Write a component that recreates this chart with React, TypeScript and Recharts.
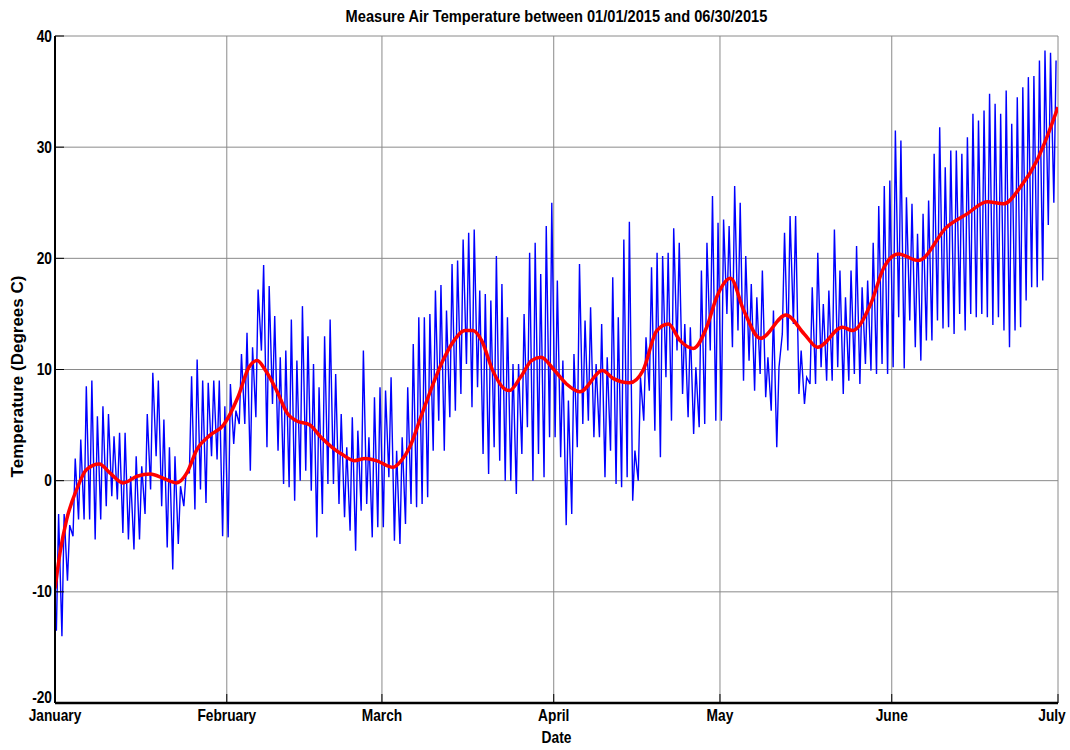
import React from 'react';
import { LineChart, Line, XAxis, YAxis, CartesianGrid } from 'recharts';

// Month boundaries in day-of-year (2015) and their labels
const monthStart = [0, 31, 59, 90, 120, 151, 181];
const monthNames = ['January', 'February', 'March', 'April', 'May', 'June', 'July'];
const tempTicks = [-20, -10, 0, 10, 20, 30, 40];

// Daily low / high air temperature (deg C), one value per day, by month
const janLow = [-13.5, -14, -9, -5, -3.5, -3.5, -3.5, -5.3, -3.5, -2.3, -1.4, -1.7, -4.7, -5.3, -6.2, -5.3, -3, -0.8, 2.2, -2.3, -6, -8, -5.7, -2.3, 0.7, -2.6, -0.8, -2, 2.2, 1.9, -5];
const janHigh = [-3, -3, -4, 2, 3.7, 8.5, 9, 5.8, 6.7, 6, 4, 4.3, 4.3, 0.4, 2.2, 1.3, 6, 9.7, 9, 5.5, 3, 2.2, -0.5, 0.7, 9.4, 10.9, 9, 8.8, 9, 9, 6.7];
const febLow = [-5.1, 3.3, 5.1, 5.1, 0.9, 5.7, 11.7, 3, 6.9, 2.7, -0.3, -0.6, -1.8, 0, 0.9, -0.9, -5.1, -3, -0.3, -0.3, -2.1, -3.3, -4.5, -6.3, -2.7, -2.1, -5.1, -4.2];
const febHigh = [8.7, 6.3, 11.4, 13.3, 12, 17.2, 19.4, 17.5, 14.8, 11.1, 11.7, 14.5, 10.8, 15.7, 13, 10.5, 8.4, 13, 14.5, 9.6, 6, 3, 5.7, 4.5, 11.7, 3.9, 7.5, 8.4];
const marLow = [-4.2, 0.3, -5.4, -5.7, -3.9, -2.1, -2.4, -2.1, -1.5, 2.7, 5.4, 2.7, 5.7, 6.3, 7.8, 10.5, 6.6, 8.4, 2.4, 0.6, 3, 1.8, 0, 0, -1.2, 2.4, 4.8, 0, 2.4, 0.3, 3.9];
const marHigh = [8.1, 9.3, 2.7, 3.9, 8.4, 12.3, 14.7, 14.7, 15, 17.1, 17.6, 15.3, 19.5, 19.8, 21.7, 22.3, 22.6, 17.1, 16.8, 16.2, 20.2, 17.7, 14.7, 10.5, 10.5, 15, 20.5, 21.4, 18.6, 22.9, 25];
const aprLow = [3.9, 2.1, -4, -3, 3, 5.1, 5.4, 3.9, 3.9, 0.3, 2.7, -0.3, -0.6, 0.3, -1.8, 0, 5.4, 8.1, 4.5, 2.1, 9.3, 5.4, 11.7, 7.8, 5.7, 4.2, 4.8, 5.1, 11.7, 5.4];
const aprHigh = [18, 10.8, 7.2, 11.4, 19.5, 14.4, 15.6, 10.5, 14.1, 11.1, 18.3, 14.7, 21.7, 23.3, 2.7, 9.3, 12.9, 19.2, 20.5, 20.2, 20.5, 22.7, 21.4, 14.1, 13.8, 10.2, 18.9, 21.4, 25.6, 23.2];
const mayLow = [5.4, 15, 12, 13.5, 9, 10.8, 8.1, 9.6, 7.5, 6.3, 3, 13.2, 11.7, 14.1, 7.8, 6.9, 8.7, 8.7, 10.2, 9, 9, 10.2, 7.8, 9, 9.6, 8.7, 10.5, 9.9, 9.6, 10.5, 9.6];
const mayHigh = [23.5, 22.9, 26.5, 25, 20.2, 17.7, 16.5, 18.9, 11.1, 15.3, 10.2, 22.3, 23.8, 23.8, 11.7, 9.3, 17.4, 20.5, 15.9, 17.1, 22.6, 18.9, 16.5, 18.9, 21.1, 17.4, 18, 21.4, 24.7, 26.5, 27];
const junLow = [10.2, 14.7, 10.1, 14.4, 12, 10.8, 12.6, 12.6, 14.4, 13.7, 13.8, 13.2, 15, 13.5, 15, 14.7, 15, 14.7, 14, 14.7, 13.5, 12, 13.5, 13.8, 16.2, 17.4, 17.4, 18, 23, 25];
const junHigh = [31.5, 30.6, 25.5, 24.9, 22.2, 24, 25.2, 29.4, 31.8, 28.2, 29.7, 29.7, 29.4, 30.9, 33, 32.4, 33.3, 34.8, 33.9, 33, 35.1, 32.1, 34.5, 35.4, 36.3, 36.4, 37.8, 38.7, 38.5, 37.8];

// Smoothed trend (red curve): day-of-year and temperature
const trendDay = [0, 0.9, 2.1, 3.9, 5.7, 8, 9.9, 12.3, 14.8, 17.2, 19.6, 21.9, 23.8, 25.6, 28, 30.4, 33, 35, 36.5, 38, 40, 42, 43.5, 46, 48, 50, 52, 54, 56, 58, 61, 62.5, 64, 66, 68, 70, 72, 74, 75.4, 77, 79, 81, 82, 84, 86, 87.7, 90, 92.3, 94.7, 98.8, 100.7, 103.7, 106.1, 108.6, 110.7, 112.8, 115.2, 117.6, 119.4, 121.9, 124.3, 127.3, 131.9, 135.2, 137.6, 142.1, 143.9, 147.2, 149.6, 152.2, 155.8, 160.9, 164.6, 168.2, 171.2, 174.2, 177.2, 179, 181];
const trendTemp = [-9.7, -6.5, -3.5, -0.8, 1, 1.5, 0.7, -0.2, 0.4, 0.6, 0.2, -0.2, 0.7, 2.8, 4.1, 5, 7.5, 10.2, 10.8, 9.9, 8.1, 6, 5.4, 5, 3.9, 3, 2.3, 1.8, 2, 1.8, 1.2, 1.8, 3, 5.7, 8.4, 10.8, 12.6, 13.5, 13.5, 12.6, 9.9, 8.3, 8.1, 9.3, 10.8, 11.1, 10, 8.7, 8, 9.9, 9.2, 8.8, 9.9, 13.5, 14.1, 12.6, 11.9, 13.8, 16.5, 18.2, 15.3, 12.8, 14.9, 13.2, 12, 13.8, 13.5, 15.9, 19.2, 20.4, 19.8, 22.8, 24, 25.1, 24.9, 26.4, 28.8, 30.9, 33.6];

const dailyLow = [...janLow, ...febLow, ...marLow, ...aprLow, ...mayLow, ...junLow];
const dailyHigh = [...janHigh, ...febHigh, ...marHigh, ...aprHigh, ...mayHigh, ...junHigh];

// early-morning low, afternoon high for each day
const airTemp = dailyLow.flatMap((lo, d) => [
  { t: d + 0.25, v: lo },
  { t: d + 0.65, v: dailyHigh[d] },
]);
const trend = trendDay.map((t, i) => ({ t, v: trendTemp[i] }));

const FONT = "'Liberation Sans', Arial, Helvetica, sans-serif";
const tickText = { fontFamily: FONT, fontWeight: 700, fontSize: 16, fill: '#000' };
const NARROW = 0.86; // labels are set in a condensed face
const TICK_LEN = 9;

const LeftTick = ({ x, y, payload }: any) => {
  // bottom label sits a little higher so it clears the month names
  const lift = payload.value === -20 ? -6 : 0;
  return (
    <g>
      <text transform={`translate(${x},${y + lift}) scale(${NARROW},1)`} dy="0.35em" textAnchor="end" style={tickText}>
        {payload.value}
      </text>
      <line x1={x + 3} x2={x + 3 + TICK_LEN} y1={y} y2={y} stroke="#000" />
    </g>
  );
};

const RightTick = ({ x, y }: any) => (
  <line x1={x - TICK_LEN} x2={x} y1={y} y2={y} stroke="#000" />
);

const BottomTick = ({ x, y, payload }: any) => {
  const i = monthStart.indexOf(payload.value);
  const shift = i === monthStart.length - 1 ? -6 : 0;
  return (
    <g>
      <text transform={`translate(${x + shift},${y + 1}) scale(${NARROW},1)`} dy="0.82em" textAnchor="middle" style={tickText}>
        {monthNames[i]}
      </text>
      <line x1={x} x2={x} y1={y - 4} y2={y - 4 - TICK_LEN} stroke="#000" />
    </g>
  );
};

const TopTick = ({ x, y }: any) => (
  <line x1={x} x2={x} y1={y} y2={y + TICK_LEN} stroke="#000" />
);

const captionStyle: React.CSSProperties = {
  position: 'absolute', left: 55, width: 1003, textAlign: 'center',
  fontFamily: FONT, fontWeight: 700, color: '#000', lineHeight: 1,
};

export default function App() {
  return (
    <div style={{ position: 'absolute', left: 0, top: 0, width: 1070, height: 750, background: '#fff' }}>
      <LineChart width={1070} height={750} margin={{ top: 36, right: 12, bottom: 0, left: 0 }}>
        <CartesianGrid stroke="#8a8a8a" strokeWidth={1} />
        <XAxis
          dataKey="t"
          type="number"
          domain={[0, 181]}
          ticks={monthStart}
          allowDataOverflow
          height={47}
          tickSize={0}
          tickMargin={4}
          tick={<BottomTick />}
          axisLine={{ stroke: '#000', strokeWidth: 2.5 }}
        />
        <XAxis
          xAxisId="top"
          orientation="top"
          dataKey="t"
          type="number"
          domain={[0, 181]}
          ticks={monthStart}
          height={0}
          tickSize={0}
          tick={<TopTick />}
          axisLine={{ stroke: '#000', strokeWidth: 2 }}
        />
        <YAxis
          type="number"
          domain={[-20, 40]}
          ticks={tempTicks}
          width={55}
          tickSize={0}
          tickMargin={3}
          tick={<LeftTick />}
          axisLine={{ stroke: '#000', strokeWidth: 2 }}
          label={{
            value: 'Temperature (Degrees C)', angle: -90, position: 'insideLeft', offset: 17, dy: 7,
            style: { fontFamily: FONT, fontWeight: 700, fontSize: 17, fill: '#000', textAnchor: 'middle' },
          }}
        />
        <YAxis
          yAxisId="right"
          orientation="right"
          type="number"
          domain={[-20, 40]}
          ticks={tempTicks}
          width={0}
          tickSize={0}
          tick={<RightTick />}
          axisLine={{ stroke: '#000', strokeWidth: 2 }}
        />
        <Line
          data={airTemp}
          dataKey="v"
          type="linear"
          stroke="#0000ff"
          strokeWidth={1.4}
          dot={false}
          activeDot={false}
          isAnimationActive={false}
        />
        <Line
          data={trend}
          dataKey="v"
          type="monotone"
          stroke="#ff0000"
          strokeWidth={3.5}
          dot={false}
          activeDot={false}
          isAnimationActive={false}
        />
      </LineChart>
      <div style={{ ...captionStyle, top: 8, fontSize: 17, transform: 'scaleX(0.86)' }}>
        Measure Air Temperature between 01/01/2015 and 06/30/2015
      </div>
      <div style={{ ...captionStyle, top: 730, fontSize: 16, transform: `scaleX(${NARROW})` }}>
        Date
      </div>
    </div>
  );
}
